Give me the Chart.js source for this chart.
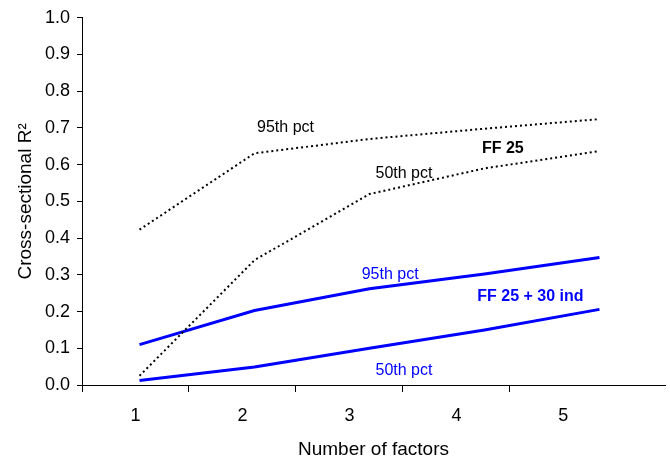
<!DOCTYPE html>
<html>
<head>
<meta charset="utf-8">
<script src="https://cdn.jsdelivr.net/npm/chart.js@4"></script>
<style>
  html, body { margin: 0; padding: 0; background: #fff; }
  #wrap { width: 670px; height: 461px; }
</style>
</head>
<body>
<div id="wrap"><canvas id="chart"></canvas></div>
<script>
// number of factors (x categories)
const factors = [1, 2, 3, 4, 5];
// FF 25 (dotted black)
const ff25p95 = [0.423, 0.631, 0.670, 0.698, 0.724];
const ff25p50 = [0.025, 0.340, 0.520, 0.590, 0.637];
// FF 25 + 30 ind (blue)
const ffIndP95 = [0.110, 0.203, 0.262, 0.302, 0.347];
const ffIndP50 = [0.012, 0.049, 0.100, 0.150, 0.206];
// y tick values
const yTicks = [0, 0.1, 0.2, 0.3, 0.4, 0.5, 0.6, 0.7, 0.8, 0.9, 1.0];

// text labels placed in data units
const notes = [
  { text: '95th pct', x: 2.27, y: 0.70, color: '#000', bold: false },
  { text: 'FF 25', x: 4.16, y: 0.645, color: '#000', bold: true },
  { text: '50th pct', x: 3.30, y: 0.575, color: '#000', bold: false },
  { text: '95th pct', x: 3.18, y: 0.30, color: '#0000ff', bold: false },
  { text: 'FF 25 + 30 ind', x: 4.40, y: 0.24, color: '#0000ff', bold: true },
  { text: '50th pct', x: 3.30, y: 0.04, color: '#0000ff', bold: false }
];

const FONT = "'Liberation Sans', Arial, sans-serif";

const toPts = vals => vals.map((v, i) => ({ x: factors[i], y: v }));

const notesPlugin = {
  id: 'notes',
  afterDatasetsDraw(chart) {
    const ctx = chart.ctx;
    const xs = chart.scales.xd, ys = chart.scales.y;
    ctx.save();
    ctx.textAlign = 'center';
    ctx.textBaseline = 'middle';
    notes.forEach(n => {
      ctx.font = (n.bold ? 'bold ' : '') + '16px ' + FONT;
      ctx.fillStyle = n.color;
      ctx.fillText(n.text, xs.getPixelForValue(n.x), ys.getPixelForValue(n.y));
    });
    ctx.restore();
  }
};

new Chart(document.getElementById('chart'), {
  type: 'line',
  data: {
    datasets: [
      { data: toPts(ff25p95), borderColor: '#000', borderWidth: 2, borderDash: [2, 3] },
      { data: toPts(ff25p50), borderColor: '#000', borderWidth: 2, borderDash: [2, 3] },
      { data: toPts(ffIndP95), borderColor: '#0000ff', borderWidth: 3 },
      { data: toPts(ffIndP50), borderColor: '#0000ff', borderWidth: 3 }
    ].map(d => Object.assign(d, { xAxisID: 'xd', pointRadius: 0, tension: 0, fill: false }))
  },
  options: {
    responsive: true,
    maintainAspectRatio: false,
    animation: false,
    layout: { padding: { top: 16, right: 5, left: 0, bottom: 0 } },
    plugins: { legend: { display: false }, tooltip: { enabled: false } },
    scales: {
      // hidden scale the lines are plotted on
      xd: { type: 'linear', display: false, min: 0.5, max: 5.57 },
      // visible axis with labels and in-between tick marks
      x: {
        type: 'linear',
        position: 'bottom',
        min: 0.5,
        max: 5.95,
        afterBuildTicks: s => { s.ticks = factors.map(v => ({ value: v })); },
        afterFit: s => { s.height = 76; },
        border: { color: '#000', width: 1 },
        grid: {
          offset: true,
          drawOnChartArea: false,
          tickLength: 7,
          tickColor: c => (c.tick ? '#000' : 'rgba(0,0,0,0)')
        },
        ticks: { color: '#000', padding: 13, font: { family: FONT, size: 18 }, callback: v => String(v) },
        title: { display: true, text: 'Number of factors', color: '#000', font: { family: FONT, size: 19 }, padding: { top: 0, bottom: 0 } }
      },
      y: {
        min: 0,
        max: 1,
        afterBuildTicks: s => { s.ticks = yTicks.map(v => ({ value: v })); },
        afterFit: s => { s.width = 82; },
        border: { color: '#000', width: 1 },
        grid: { drawOnChartArea: false, tickLength: 5, tickColor: '#000' },
        ticks: { color: '#000', padding: 7, font: { family: FONT, size: 18 }, callback: v => v.toFixed(1) },
        title: { display: true, text: 'Cross-sectional R²', color: '#000', font: { family: FONT, size: 19 }, padding: { top: 14, bottom: 0 } }
      }
    }
  },
  plugins: [notesPlugin]
});
</script>
</body>
</html>
